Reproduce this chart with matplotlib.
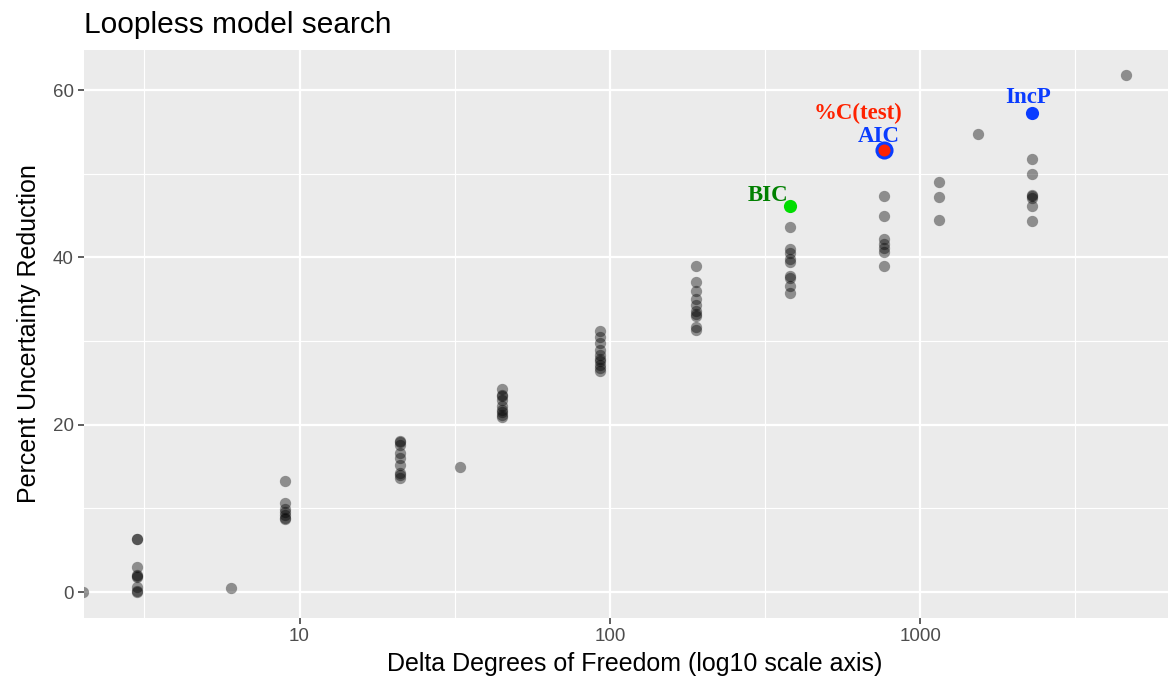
import numpy as np
import matplotlib
matplotlib.use('Agg')
import matplotlib.pyplot as plt

plt.rcParams['font.family'] = ['Liberation Sans', 'DejaVu Sans']

# delta degrees of freedom for each group of models
dof = [2, 3, 6, 9, 21, 33, 45, 93, 189, 381, 765, 1149, 1533, 2301, 4605]
# percent uncertainty reduction for the models in each group
pur = [
    [0.0],
    [6.4, 6.4, 3.0, 2.0, 1.9, 1.8, 0.6, 0.1, 0.0],
    [0.5],
    [13.3, 10.6, 9.9, 9.6, 9.2, 8.9, 8.7],
    [18.1, 17.9, 17.6, 16.6, 16.0, 15.2, 14.3, 14.0, 13.6],
    [14.9],
    [24.3, 23.6, 23.4, 23.0, 22.3, 21.8, 21.5, 21.2, 20.9],
    [31.2, 30.5, 29.8, 28.9, 28.3, 27.9, 27.6, 27.2, 26.8, 26.4],
    [39.0, 37.1, 36.0, 35.0, 34.3, 33.6, 33.3, 33.0, 31.7, 31.3],
    [43.7, 41.0, 40.5, 39.8, 39.5, 37.8, 37.6, 36.6, 35.8],
    [47.4, 44.9, 42.2, 41.6, 41.1, 40.6, 39.0],
    [49.0, 47.2, 44.5],
    [54.8],
    [51.8, 50.0, 47.5, 47.3, 47.1, 46.2, 44.4],
    [61.8],
]

# selected models
bic_x, bic_y = 381, 46.2
aic_x, aic_y = 765, 52.9
incp_x, incp_y = 2301, 57.3

x_all = np.concatenate([[d] * len(v) for d, v in zip(dof, pur)])
y_all = np.concatenate(pur)

fig = plt.figure(figsize=(11.68, 6.87), dpi=100)
ax = fig.add_axes([84 / 1168, 1 - 618 / 687, (1186 - 84) / 1168, 568 / 687])
ax.set_facecolor('#ebebeb')
for s in ax.spines.values():
    s.set_visible(False)

ax.set_xscale('log')
ax.set_xlim(2.02, 10 ** (1 + 888.5 / 311))
ax.set_ylim(-3.09, 64.8)

# ggplot style grid
ax.set_xticks([10, 100, 1000])
ax.set_xticklabels(['10', '100', '1000'])
ax.set_xticks([10 ** 0.5, 10 ** 1.5, 10 ** 2.5, 10 ** 3.5], minor=True)
ax.set_xticklabels([], minor=True)
ax.set_yticks([0, 20, 40, 60])
ax.set_yticks([10, 30, 50], minor=True)
ax.grid(which='major', color='white', linewidth=1.6)
ax.grid(which='minor', color='white', linewidth=0.8)
ax.set_axisbelow(True)
ax.tick_params(which='major', length=4.5, width=1.1, color='#333333',
               labelsize=13.5, labelcolor='#4d4d4d', pad=3)
ax.tick_params(which='minor', length=0)

ax.scatter(x_all, y_all, s=66, color='black', alpha=0.4, linewidths=0, zorder=3)

ax.scatter([bic_x], [bic_y], s=90, color='#00dd00', linewidths=0, zorder=4)
ax.scatter([aic_x], [aic_y], s=170, color='#0a3cff', linewidths=0, zorder=4)
ax.scatter([aic_x], [aic_y], s=75, color='#ff2200', linewidths=0, zorder=5)
ax.scatter([incp_x], [incp_y], s=90, color='#0a3cff', linewidths=0, zorder=4)

lab = dict(family=['Liberation Serif', 'DejaVu Serif'], fontweight='bold',
           fontsize=16.5, textcoords='offset points', va='baseline', zorder=6)
ax.annotate('BIC', (bic_x, bic_y), xytext=(-1, 3), ha='right', color='#008000', **lab)
ax.annotate('AIC', (aic_x, aic_y), xytext=(-3.5, 5.8), ha='center', color='#0a3cff', **lab)
ax.annotate('%C(test)', (aic_x, aic_y), xytext=(13, 22), ha='right', color='#ff2200', **lab)
ax.annotate('IncP', (incp_x, incp_y), xytext=(-3, 7), ha='center', color='#0a3cff', **lab)

ax.set_xlabel('Delta Degrees of Freedom (log10 scale axis)', fontsize=18, color='black', labelpad=5)
ax.set_ylabel('Percent Uncertainty Reduction', fontsize=18, color='black', labelpad=8)
fig.text(84 / 1168, 1 - 33 / 687, 'Loopless model search', fontsize=21.5,
         ha='left', va='baseline')

fig.savefig('out.png', dpi=100)
